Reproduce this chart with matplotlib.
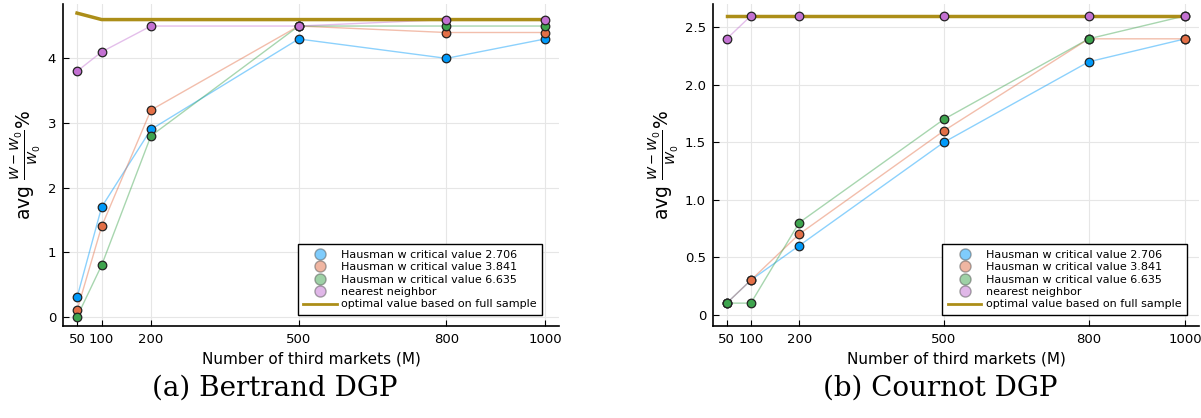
import matplotlib.pyplot as plt
from matplotlib.lines import Line2D

# Data
markets = [50, 100, 200, 500, 800, 1000]

bert_h2706 = [0.3, 1.7, 2.9, 4.3, 4.0, 4.3]
bert_h3841 = [0.1, 1.4, 3.2, 4.5, 4.4, 4.4]
bert_h6635 = [0.0, 0.8, 2.8, 4.5, 4.5, 4.5]
bert_nn = [3.8, 4.1, 4.5, 4.5, 4.6, 4.6]
bert_opt = [4.7, 4.6, 4.6, 4.6, 4.6, 4.6]

cour_h2706 = [0.1, 0.3, 0.6, 1.5, 2.2, 2.4]
cour_h3841 = [0.1, 0.3, 0.7, 1.6, 2.4, 2.4]
cour_h6635 = [0.1, 0.1, 0.8, 1.7, 2.4, 2.6]
cour_nn = [2.4, 2.6, 2.6, 2.6, 2.6, 2.6]
cour_opt = [2.6, 2.6, 2.6, 2.6, 2.6, 2.6]

labels = ['Hausman w critical value 2.706', 'Hausman w critical value 3.841',
          'Hausman w critical value 6.635', 'nearest neighbor']
colors = ['#009AFA', '#E36F47', '#3EA44E', '#C371D2']
gold = '#AC8E18'

W, H = 1201, 418
fig = plt.figure(figsize=(W / 100, H / 100), dpi=100)


def panel(rect, series, opt, ylim, yticks, yticklabels, legend_x, caption, cap_x):
    ax = fig.add_axes(rect)
    for vals, c in zip(series, colors):
        ax.plot(markets, vals, color=c, alpha=0.45, lw=1, zorder=2)
    ax.plot(markets, opt, color=gold, lw=2.5, zorder=3)
    for vals, c in zip(series, colors):
        ax.scatter(markets, vals, s=38, color=c, edgecolor='#222222', linewidth=0.9, zorder=4)
    ax.set_xlim(21.5, 1028.5)
    ax.set_ylim(*ylim)
    ax.set_xticks(markets)
    ax.set_yticks(yticks)
    ax.set_yticklabels(yticklabels)
    ax.grid(True, color='#e6e6e6', lw=0.8)
    ax.set_axisbelow(True)
    for s in ['top', 'right']:
        ax.spines[s].set_visible(False)
    for s in ['left', 'bottom']:
        ax.spines[s].set_linewidth(1.2)
    ax.tick_params(direction='in', length=4, labelsize=9.5, colors='black', pad=5)
    ax.set_xlabel('Number of third markets (M)', fontsize=11, labelpad=4)
    ax.set_ylabel(r'avg $\frac{W - W_0}{W_0}$%', fontsize=13.5, labelpad=3)

    handles = [Line2D([], [], ls='none', marker='o', ms=8, mfc=c, mec='#555555',
                      alpha=0.5) for c in colors]
    handles.append(Line2D([], [], color=gold, lw=2))
    leg = ax.legend(handles, labels + ['optimal value based on full sample'],
                    loc='lower right', bbox_to_anchor=(legend_x, 0.034),
                    borderaxespad=0, fontsize=8, fancybox=False, framealpha=1,
                    edgecolor='black', labelspacing=0.22, handlelength=3,
                    handletextpad=0.4, borderpad=0.5)
    leg.get_frame().set_linewidth(1.0)
    fig.text(cap_x, 0.072, caption, ha='center', va='center',
             fontsize=20, family='DejaVu Serif')
    return ax


panel([63 / W, 1 - 326 / H, 496 / W, 322 / H],
      [bert_h2706, bert_h3841, bert_h6635, bert_nn], bert_opt,
      (-0.141, 4.841), [0, 1, 2, 3, 4], ['0', '1', '2', '3', '4'],
      0.966, '(a) Bertrand DGP', 275 / W)

panel([713 / W, 1 - 326 / H, 486 / W, 322 / H],
      [cour_h2706, cour_h3841, cour_h6635, cour_nn], cour_opt,
      (-0.099, 2.703), [0, 0.5, 1.0, 1.5, 2.0, 2.5], ['0', '0.5', '1.0', '1.5', '2.0', '2.5'],
      0.975, '(b) Cournot DGP', 940 / W)

plt.savefig('out.png', dpi=100)
